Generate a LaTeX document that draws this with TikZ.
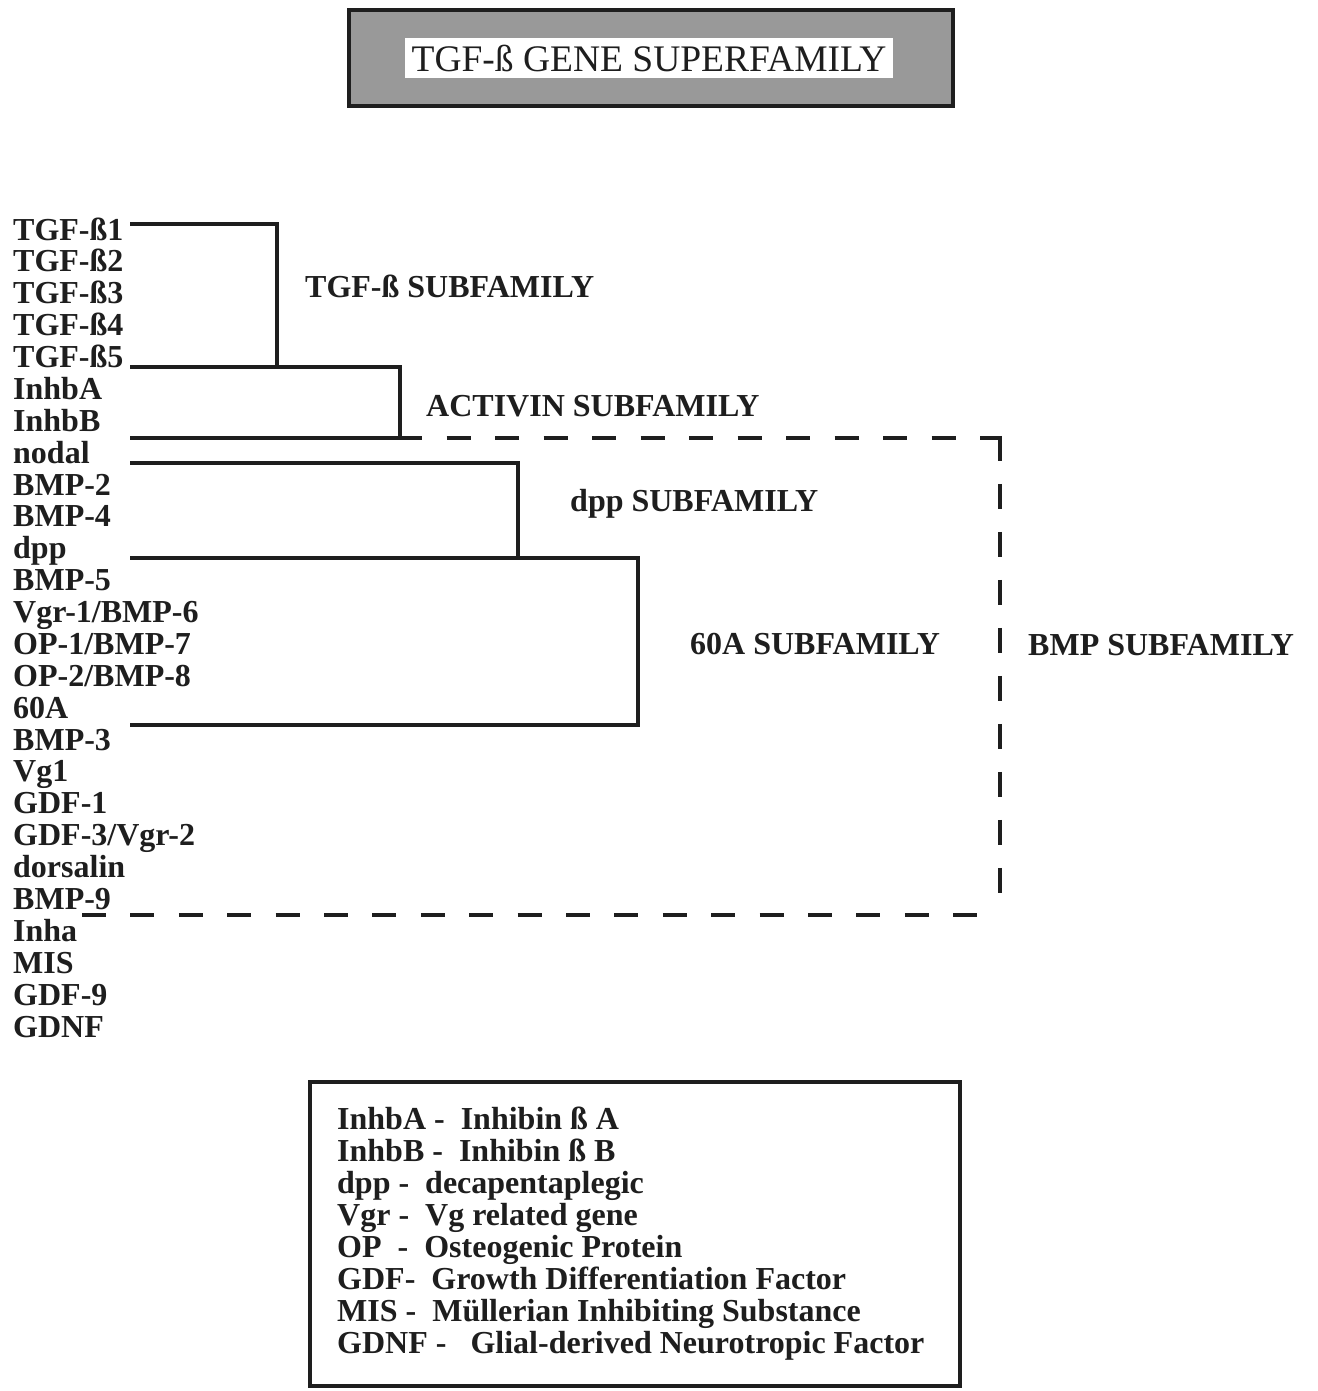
\documentclass[tikz,border=0pt]{standalone}
\usepackage{fontspec}
\setmainfont{Liberation Serif}
\usetikzlibrary{positioning}
\definecolor{tgfInk}{HTML}{1E1E1E}
\definecolor{tgfShade}{HTML}{999999}
\tikzset{
  titleframe/.style={
    draw=tgfInk,
    line width=4pt,
    fill=tgfShade,
    minimum width=604,
    minimum height=96,
    inner sep=0pt
  },
  titlebox/.style={
    fill=white,
    text=tgfInk,
    minimum width=488,
    minimum height=40,
    inner sep=0pt,
    font=\fontsize{37.5}{40}\selectfont
  },
  gene/.style={anchor=base west, inner sep=0pt, text=tgfInk, font=\fontsize{32}{32}\selectfont\bfseries},
  family/.style={anchor=base west, inner sep=0pt, text=tgfInk, font=\fontsize{32}{32}\selectfont\bfseries},
  legendframe/.style={
    draw=tgfInk,
    line width=4pt,
    minimum width=650,
    minimum height=304,
    inner sep=0pt
  },
  bracket/.style={draw=tgfInk, line width=4pt},
  bmpline/.style={draw=tgfInk, line width=4.5pt, dash pattern=on 24pt off 24.4pt}
}

\begin{document}
\begin{tikzpicture}[x=1pt, y=-1pt]
  \useasboundingbox[fill=white] (0,0) rectangle (1317,1391);

  % title
  \node[titleframe] (frame) at (651,58) {};
  \node[titlebox] (title) at (649,58) {TGF-ß GENE SUPERFAMILY};

  % gene list
  \foreach \g [count=\i] in {TGF-ß1,TGF-ß2,TGF-ß3,TGF-ß4,TGF-ß5,InhbA,InhbB,nodal,BMP-2,BMP-4,dpp,BMP-5,Vgr-1/BMP-6,OP-1/BMP-7,OP-2/BMP-8,60A,BMP-3,Vg1,GDF-1,GDF-3/Vgr-2,dorsalin,BMP-9,Inha,MIS,GDF-9,GDNF}
    \node[gene] (g\i) at (13,{240+31.88*(\i-1)}) {\g};

  % subfamily brackets
  \coordinate (tgfTop) at (130,224);
  \coordinate (tgfBot) at (130,367);
  \coordinate (tgfStem) at (277,0);
  \coordinate (actBot) at (130,438);
  \coordinate (actStem) at (400,0);
  \coordinate (dppTop) at (130,463);
  \coordinate (dppBot) at (130,558);
  \coordinate (dppStem) at (518,0);
  \coordinate (sixtyBot) at (130,725);
  \coordinate (sixtyStem) at (638,0);
  \coordinate (bmpCorner) at (1000,438);
  \coordinate (bmpFoot) at (82,915);

  \draw[bracket] (tgfTop) -- (tgfTop -| tgfStem) -- (tgfBot -| tgfStem);
  \draw[bracket] (tgfBot) -- (tgfBot -| actStem) -- (actBot -| actStem) -- (actBot);
  \draw[bracket] (dppTop) -- (dppTop -| dppStem) -- (dppBot -| dppStem);
  \draw[bracket] (dppBot) -- (dppBot -| sixtyStem) -- (sixtyBot -| sixtyStem) -- (sixtyBot);

  % BMP subfamily, dashed
  \draw[bmpline, dash pattern=on 24pt off 24.5pt] ([xshift=-2pt]actBot -| actStem) -- (bmpCorner);
  \draw[bmpline, dash pattern=on 25.5pt off 22.5pt] ([yshift=2.25pt]bmpCorner) -- (bmpCorner |- bmpFoot);
  \draw[bmpline] (bmpFoot) -- (bmpFoot -| bmpCorner);

  % subfamily names
  \node[family] (tgfName) at (305,297) {TGF-ß SUBFAMILY};
  \node[family] (actName) at (426,416) {ACTIVIN SUBFAMILY};
  \node[family] (dppName) at (570,511) {dpp SUBFAMILY};
  \node[family] (sixtyName) at (690,654) {60A SUBFAMILY};
  \node[family] (bmpName) at (1028,655) {BMP SUBFAMILY};

  % abbreviations
  \node[legendframe] (legend) at (635,1234) {};
  \foreach \t [count=\i] in {InhbA -~~Inhibin ß A,InhbB -~~Inhibin ß B,dpp -~~decapentaplegic,Vgr -~~Vg related gene,OP~~-~~Osteogenic Protein,GDF-~~Growth Differentiation Factor,MIS -~~Müllerian Inhibiting Substance,GDNF -~~~Glial-derived Neurotropic Factor}
    \node[gene] (leg\i) at (337,{1129+32*(\i-1)}) {\t};
\end{tikzpicture}
\end{document}
